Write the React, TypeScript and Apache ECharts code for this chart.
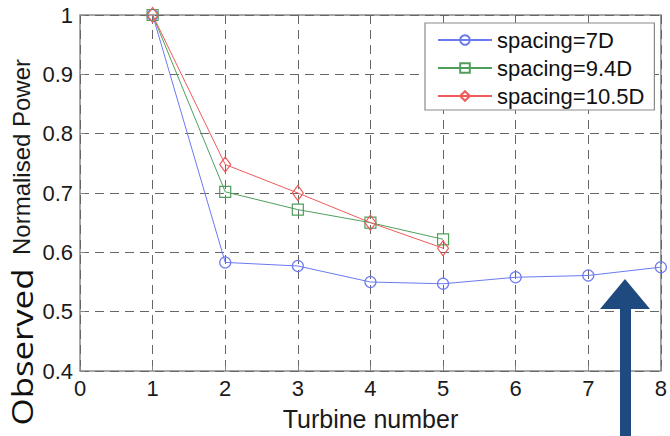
import React, { useEffect, useRef } from "react";
import * as echarts from "echarts";

const turbines = [1, 2, 3, 4, 5, 6, 7, 8];
const spacing7D = [1.0, 0.583, 0.577, 0.55, 0.547, 0.558, 0.561, 0.575];
const spacing94D = [1.0, 0.702, 0.672, 0.65, 0.622];
const spacing105D = [1.0, 0.748, 0.7, 0.65, 0.607];
const seriesNames = ["spacing=7D", "spacing=9.4D", "spacing=10.5D"];
const xTicks = { min: 0, max: 8, interval: 1 };
const yTicks = { min: 0.4, max: 1, interval: 0.1 };

const BLUE = "#6b7af0";
const GREEN = "#4f9f5c";
const RED = "#ef5a5a";
const FONT = "'Liberation Sans', Arial, Helvetica, sans-serif";

function pairs(vals: number[]) {
  return vals.map((v, i) => [turbines[i], v]);
}

export default function App() {
  const ref = useRef<HTMLDivElement>(null);
  useEffect(() => {
    if (!ref.current) return;
    const chart = echarts.init(ref.current, null, { renderer: "svg" });
    const mk = (name: string, vals: number[], color: string, symbol: string, size: any) => ({
      type: "line",
      name,
      data: pairs(vals),
      symbol,
      symbolSize: size,
      lineStyle: { color, width: 1 },
      itemStyle: { color: "rgba(255,255,255,0)", borderColor: color, borderWidth: 1.2 },
      emphasis: { disabled: true },
    });
    chart.setOption({
      animation: false,
      backgroundColor: "#fff",
      grid: {
        left: 80,
        right: 2,
        top: 15,
        bottom: 63,
        show: true,
        borderColor: "#8a8a8a",
        borderWidth: 1.5,
        backgroundColor: "transparent",
      },
      xAxis: {
        type: "value",
        min: xTicks.min,
        max: xTicks.max,
        interval: xTicks.interval,
        name: "Turbine number",
        nameLocation: "middle",
        nameGap: 35,
        nameTextStyle: { fontFamily: FONT, fontSize: 25, color: "#1a1a1a" },
        axisLine: { show: false },
        axisTick: { show: true, inside: true, length: 5, lineStyle: { color: "#888" } },
        axisLabel: { fontFamily: FONT, fontSize: 22, color: "#1a1a1a", margin: 6 },
        splitLine: { show: true, lineStyle: { color: "#666", type: [9, 6], width: 1 } },
      },
      yAxis: {
        type: "value",
        min: yTicks.min,
        max: yTicks.max,
        interval: yTicks.interval,
        axisLine: { show: false },
        axisTick: { show: true, inside: true, length: 5, lineStyle: { color: "#888" } },
        axisLabel: { fontFamily: FONT, fontSize: 22, color: "#1a1a1a", margin: 7 },
        splitLine: { show: true, lineStyle: { color: "#666", type: [9, 6], width: 1 } },
      },
      legend: {
        data: seriesNames,
        orient: "vertical",
        left: 425,
        top: 23,
        width: 230,
        padding: [6, 10, 3, 12],
        itemGap: 6,
        itemWidth: 54,
        itemHeight: 12,
        backgroundColor: "#fff",
        borderColor: "#8a8a8a",
        borderWidth: 1.2,
        borderRadius: 0,
        textStyle: { fontFamily: FONT, fontSize: 22, color: "#111" },
      },
      series: [
        mk(seriesNames[0], spacing7D, BLUE, "circle", 11),
        mk(seriesNames[1], spacing94D, GREEN, "rect", 11),
        mk(seriesNames[2], spacing105D, RED, "diamond", [11, 15]),
      ],
      graphic: [
        {
          type: "text",
          x: 21,
          y: 157,
          rotation: Math.PI / 2,
          style: {
            text: "Normalised Power",
            fontFamily: FONT,
            fontSize: 24,
            fill: "#1a1a1a",
            align: "center",
            verticalAlign: "middle",
          },
        },
        {
          type: "text",
          x: 22,
          y: 347,
          rotation: Math.PI / 2,
          scaleX: 1.2,
          style: {
            text: "Observed",
            fontFamily: "'Open Sans', sans-serif",
            fontSize: 29,
            fill: "#111",
            align: "center",
            verticalAlign: "middle",
          },
        },
        {
          type: "polygon",
          shape: { points: [[600, 309], [625, 279], [650, 309]] },
          style: { fill: "#1f4a80" },
          z: 100,
        },
        {
          type: "rect",
          shape: { x: 620, y: 307, width: 11, height: 140 },
          style: { fill: "#1f4a80" },
          z: 100,
        },
      ],
    });
    return () => chart.dispose();
  }, []);
  return <div ref={ref} style={{ width: 670, height: 436, position: "absolute", left: 0, top: 0 }} />;
}
